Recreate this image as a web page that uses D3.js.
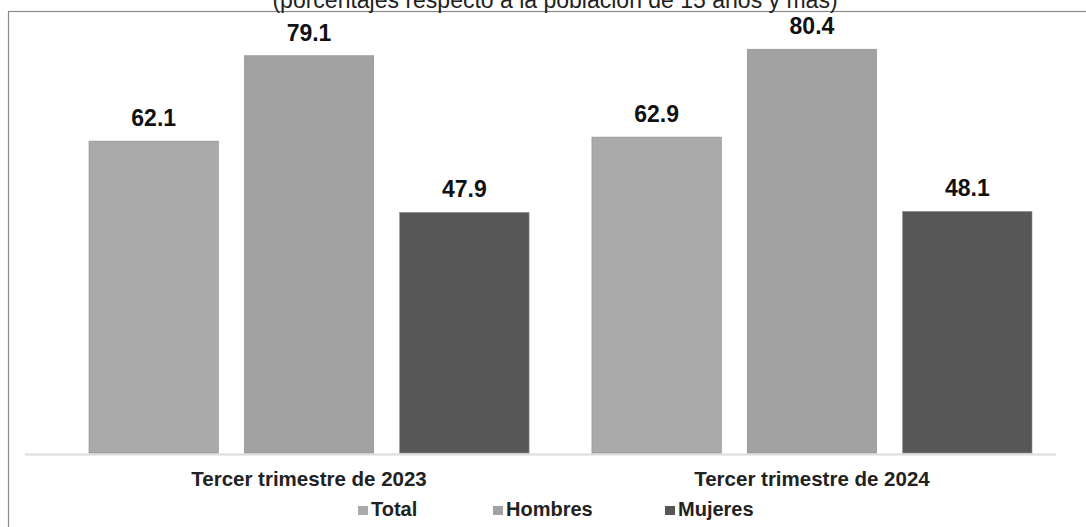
<!DOCTYPE html>
<html>
<head>
<meta charset="utf-8">
<script src="https://cdn.jsdelivr.net/npm/d3@7"></script>
<style>
  body { margin: 0; background: #fff; }
  text { font-family: "Liberation Sans", Arial, sans-serif; }
</style>
</head>
<body>
<div id="chart"></div>
<script>
// data
const periods = ["Tercer trimestre de 2023", "Tercer trimestre de 2024"];
const series = ["Total", "Hombres", "Mujeres"];
const total = [62.1, 62.9];
const hombres = [79.1, 80.4];
const mujeres = [47.9, 48.1];
const colors = ["#aaaaaa", "#a2a2a2", "#575757"];

const rows = periods.map((p, i) => ({
  period: p,
  values: [total[i], hombres[i], mujeres[i]].map((v, j) => ({ key: series[j], value: v }))
}));

const width = 1086, height = 527;

const svg = d3.select("#chart").append("svg")
    .attr("width", width)
    .attr("height", height);

// frame (right and bottom sides fall outside the crop)
svg.append("rect")
    .attr("x", 8.5).attr("y", 11.5)
    .attr("width", 1090).attr("height", 530)
    .attr("fill", "none")
    .attr("stroke", "#8a8a8a")
    .attr("stroke-width", 1.2);

svg.append("text")
    .attr("x", 555).attr("y", 8)
    .attr("text-anchor", "middle")
    .attr("font-size", 23)
    .attr("fill", "#222")
    .text("(porcentajes respecto a la población de 15 años y más)");

const x0 = d3.scaleBand()
    .domain(periods)
    .range([89, 1032])
    .paddingInner(0.125);

const x1 = d3.scaleBand()
    .domain(series)
    .range([0, x0.bandwidth()])
    .paddingInner(0.167);

const y = d3.scaleLinear()
    .domain([0, 90])
    .range([453, 1]);

// baseline
svg.append("line")
    .attr("x1", 25).attr("x2", 1056)
    .attr("y1", y(0) + 1.5).attr("y2", y(0) + 1.5)
    .attr("stroke", "#dcdcdc")
    .attr("stroke-width", 2);

const g = svg.append("g")
  .selectAll("g")
  .data(rows)
  .join("g")
    .attr("transform", d => `translate(${x0(d.period)},0)`);

g.selectAll("rect")
  .data(d => d.values)
  .join("rect")
    .attr("x", d => x1(d.key))
    .attr("y", d => y(d.value))
    .attr("width", x1.bandwidth())
    .attr("height", d => y(0) - y(d.value))
    .attr("fill", (d, i) => colors[i])
    .attr("stroke", "#8c8c8c")
    .attr("stroke-width", 0.6);

g.selectAll("text.val")
  .data(d => d.values)
  .join("text")
    .attr("class", "val")
    .attr("x", d => x1(d.key) + x1.bandwidth() / 2)
    .attr("y", d => y(d.value) - 15)
    .attr("text-anchor", "middle")
    .attr("font-size", 23)
    .attr("font-weight", "bold")
    .attr("fill", "#111")
    .text(d => d.value.toFixed(1));

// category labels
svg.append("g")
  .selectAll("text")
  .data(periods)
  .join("text")
    .attr("x", d => x0(d) + x0.bandwidth() / 2)
    .attr("y", 486)
    .attr("text-anchor", "middle")
    .attr("font-size", 20.5)
    .attr("font-weight", "bold")
    .attr("fill", "#222")
    .text(d => d);

// legend
const legendX = [358, 493, 665];
const lg = svg.append("g")
  .selectAll("g")
  .data(series)
  .join("g")
    .attr("transform", (d, i) => `translate(${legendX[i]},516)`);

lg.append("rect")
    .attr("x", 0).attr("y", -10)
    .attr("width", 10).attr("height", 9)
    .attr("fill", (d, i) => colors[i]);

lg.append("text")
    .attr("x", 13).attr("y", 0)
    .attr("font-size", 20)
    .attr("font-weight", "bold")
    .attr("fill", "#222")
    .text(d => d);
</script>
</body>
</html>
